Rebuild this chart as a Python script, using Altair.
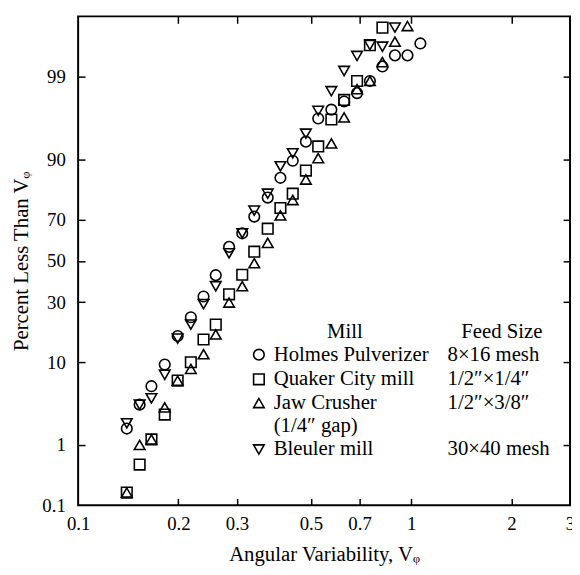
import altair as alt
import pandas as pd
from statistics import NormalDist

# ---------------- data ----------------
mills = ["Holmes Pulverizer", "Quaker City mill", "Jaw Crusher", "Bleuler mill"]
feeds = ["8×16 mesh", "1/2″×1/4″", "1/2″×3/8″", "30×40 mesh"]
shapes = ["circle", "square", "triangle-up", "triangle-down"]

holmes_v = [0.140, 0.153, 0.166, 0.182, 0.199, 0.218, 0.238, 0.259, 0.284, 0.311,
            0.338, 0.371, 0.405, 0.441, 0.483, 0.526, 0.576, 0.629, 0.688, 0.752,
            0.820, 0.894, 0.975, 1.066]
holmes_p = [1.7, 3.45, 5.65, 9.5, 17.1, 23.8, 32.6, 42.8, 57.0, 63.6,
            71.2, 78.8, 85.3, 89.7, 93.4, 96.4, 97.2, 97.8, 98.3, 98.85,
            99.3, 99.53, 99.53, 99.7]

quaker_v = [0.140, 0.153, 0.166, 0.182, 0.199, 0.218, 0.238, 0.259, 0.284, 0.311,
            0.338, 0.371, 0.405, 0.441, 0.483, 0.526, 0.576, 0.629, 0.688, 0.752,
            0.820]
quaker_p = [0.17, 0.5, 1.2, 2.6, 6.5, 10.0, 16.0, 21.0, 33.6, 43.0,
            54.6, 65.8, 74.8, 80.2, 87.3, 92.6, 96.3, 97.9, 98.85, 99.68,
            99.84]

jaw_v = [0.140, 0.153, 0.166, 0.182, 0.199, 0.218, 0.238, 0.259, 0.284, 0.311,
         0.338, 0.371, 0.405, 0.441, 0.483, 0.526, 0.576, 0.629, 0.688, 0.752,
         0.820, 0.894, 0.975]
jaw_p = [0.17, 1.0, 1.2, 3.2, 6.5, 8.6, 11.9, 17.6, 29.9, 37.4,
         48.8, 59.0, 71.7, 77.9, 84.8, 90.3, 93.1, 96.5, 98.5, 98.85,
         99.4, 99.72, 99.85]

bleuler_v = [0.140, 0.153, 0.166, 0.182, 0.199, 0.218, 0.238, 0.259, 0.284, 0.311,
             0.338, 0.371, 0.405, 0.441, 0.483, 0.526, 0.576, 0.629, 0.688, 0.752,
             0.820, 0.894]
bleuler_p = [2.0, 3.45, 4.1, 7.5, 16.3, 21.0, 29.2, 37.4, 53.8, 63.6,
             73.7, 80.2, 88.4, 91.3, 94.6, 97.1, 98.4, 99.18, 99.52, 99.68,
             99.66, 99.84]

x_ticks = [0.1, 0.2, 0.3, 0.5, 0.7, 1, 2, 3]
y_ticks = [0.1, 1, 10, 30, 50, 70, 90, 99]

# ---------------- table ----------------
rows = []
for name, vs, ps in zip(mills, [holmes_v, quaker_v, jaw_v, bleuler_v],
                        [holmes_p, quaker_p, jaw_p, bleuler_p]):
    for v, p in zip(vs, ps):
        rows.append({"mill": name, "v": v, "p": p})
df = pd.DataFrame(rows)

nd = NormalDist()
y_tick_z = [nd.inv_cdf(p / 100) for p in y_ticks]
zmax = nd.inv_cdf(0.999)

W, H = 498, 495
FONT = "Liberation Serif"

xscale = alt.Scale(type="log", domain=[0.1, 3], nice=False)
yscale = alt.Scale(type="linear", domain=[-zmax, zmax], nice=False, zero=False)

base = alt.Chart(df).transform_calculate(z="quantileNormal(datum.p / 100)")

points = base.mark_point(filled=False, color="black", strokeWidth=1.6, size=115, opacity=1).encode(
    x=alt.X("v:Q", scale=xscale,
            axis=alt.Axis(orient="bottom", values=x_ticks, format="~g", ticks=False, domain=False,
                          grid=False, labelFlush=False, labelOverlap=False, labelPadding=10,
                          title="Angular Variability, Vᵩ", titleX=W / 2, titleY=56,
                          titleBaseline="alphabetic", titleAlign="center")),
    y=alt.Y("z:Q", scale=yscale,
            axis=alt.Axis(orient="left", values=y_tick_z,
                          labelExpr="round(cumulativeNormal(datum.value) * 100000) / 1000",
                          ticks=False, domain=False, grid=False, labelFlush=False,
                          labelOverlap=False, labelPadding=13,
                          title="Percent Less Than Vᵩ", titleX=-51, titleY=H / 2, titleAngle=270,
                          titleBaseline="alphabetic", titleAlign="center")),
    shape=alt.Shape("mill:N", scale=alt.Scale(domain=mills, range=shapes), legend=None),
)


def tick_layer(x_orient, y_orient):
    return base.mark_point(opacity=0).encode(
        x=alt.X("v:Q", scale=xscale,
                axis=alt.Axis(orient=x_orient, offset=-H, values=x_ticks[1:-1], labels=False,
                              ticks=True, tickSize=7, tickWidth=1.5, tickColor="black",
                              domain=False, grid=False, title=None)),
        y=alt.Y("z:Q", scale=yscale,
                axis=alt.Axis(orient=y_orient, offset=-W, values=y_tick_z[1:], labels=False,
                              ticks=True, tickSize=7, tickWidth=1.5, tickColor="black",
                              domain=False, grid=False, title=None)),
    )


# ---------------- legend (hand-laid annotation) ----------------
LFS = 21
sym_x, name_x, feed_x = 183, 198, 374
head_y = 319.5
row_y = [342.5, 367.5, 391.5, 438.5]
extra_line = "(1/4″ gap)"
extra_y = 414.5


def txt(s, x, y, align="left"):
    return alt.Chart(pd.DataFrame({"t": [s]})).mark_text(
        font=FONT, fontSize=LFS, align=align, baseline="middle", color="black"
    ).encode(text="t:N", x=alt.value(x), y=alt.value(y))


legend_layers = [txt("Mill", 270, head_y, "center"), txt("Feed Size", 429, head_y, "center")]
for name, feed, shp, yy in zip(mills, feeds, shapes, row_y):
    legend_layers.append(
        alt.Chart(pd.DataFrame({"m": [name]})).mark_point(
            shape=shp, filled=False, color="black", strokeWidth=1.6, size=115, opacity=1
        ).encode(x=alt.value(sym_x), y=alt.value(yy))
    )
    legend_layers.append(txt(name, name_x, yy))
    legend_layers.append(txt(feed, feed_x, yy))
legend_layers.append(txt(extra_line, name_x, extra_y))

chart = alt.layer(
    points, tick_layer("top", "right"), tick_layer("bottom", "left"), *legend_layers
).resolve_axis(x="independent", y="independent").properties(
    width=W, height=H,
    autosize=alt.AutoSizeParams(type="none"),
    padding={"left": 71, "top": 5, "right": 2, "bottom": 59},
    background="white",
).configure_view(stroke="black", strokeWidth=2).configure_axis(
    labelFont=FONT, labelFontSize=19, labelColor="black",
    titleFont=FONT, titleFontSize=21, titleFontWeight="normal", titleColor="black",
)

chart.save("out.html", embed_options={"renderer": "svg", "actions": False})
